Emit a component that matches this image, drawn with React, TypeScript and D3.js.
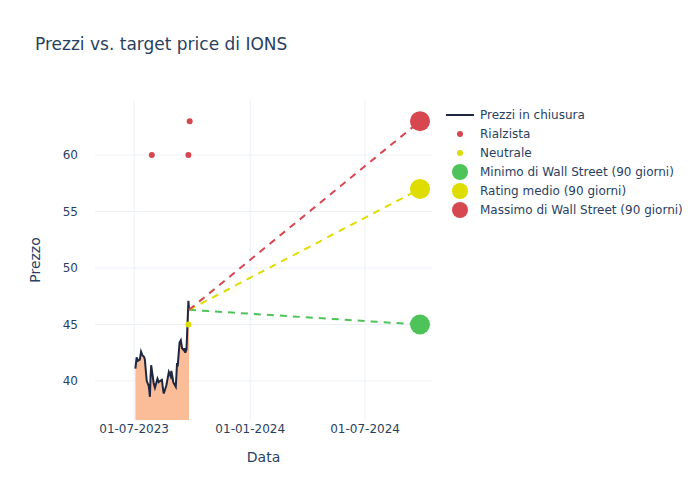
import React from "react";
import * as d3 from "d3";

const priceDates = [
  "2023-07-03","2023-07-05","2023-07-07","2023-07-10","2023-07-12","2023-07-14","2023-07-17","2023-07-18",
  "2023-07-20","2023-07-21","2023-07-24","2023-07-25","2023-07-26","2023-07-27","2023-07-28","2023-07-31",
  "2023-08-01","2023-08-03","2023-08-04","2023-08-07","2023-08-09","2023-08-11","2023-08-14","2023-08-16",
  "2023-08-17","2023-08-21","2023-08-23","2023-08-25","2023-08-28","2023-08-29","2023-08-31","2023-09-01",
  "2023-09-05","2023-09-06","2023-09-07","2023-09-08","2023-09-11","2023-09-13","2023-09-15","2023-09-18",
  "2023-09-19","2023-09-20","2023-09-22","2023-09-25","2023-09-26"
];
const priceValues = [
  41.1, 42.1, 41.8, 41.9, 42.6, 42.3, 42.1, 41.9,
  40.6, 40.0, 39.6, 39.2, 38.6, 40.3, 41.4, 40.2,
  39.8, 39.4, 39.6, 40.2, 39.9, 40.0, 40.1, 39.2,
  38.9, 39.6, 40.2, 40.8, 40.4, 40.9, 40.3, 39.9,
  39.5, 40.5, 41.6, 41.3, 43.4, 43.6, 42.9, 42.7,
  42.9, 42.5, 42.8, 47.1, 46.3
];

const bullishDates = ["2023-07-29", "2023-09-25", "2023-09-27"];
const bullishValues = [60, 60, 63];
const neutralDates = ["2023-09-25"];
const neutralValues = [45];

const targetDate = "2024-09-26";
const targetLabels = ["Minimo di Wall Street (90 giorni)", "Rating medio (90 giorni)", "Massimo di Wall Street (90 giorni)"];
const targetValues = [45, 57, 63];
const targetColors = ["#4ec35a", "#dfdc00", "#d6474f"];

const yTicks = [40, 45, 50, 55, 60];
const xTickDates = ["2023-07-01", "2024-01-01", "2024-07-01"];
const xTickLabels = ["01-07-2023", "01-01-2024", "01-07-2024"];

const FONT = "'DejaVu Sans', sans-serif";
const TXT = "#2a3f5f";
const RED = "#d6474f";
const YEL = "#dfdc00";

const pd = (s: string) => new Date(s + "T00:00:00Z");

export default function App() {
  const W = 700, H = 500;
  const left = 95, right = 432, top = 100, bottom = 420;
  const x = d3.scaleUtc().domain([pd("2023-04-30"), pd("2024-10-15")]).range([left, right]);
  const y = d3.scaleLinear().domain([36.55, 64.87]).range([bottom, top]);

  const pts = priceDates.map((d, i) => ({ d: pd(d), v: priceValues[i] }));
  const line = d3.line<{ d: Date; v: number }>().x(p => x(p.d)).y(p => y(p.v));
  const area = d3.area<{ d: Date; v: number }>().x(p => x(p.d)).y0(bottom).y1(p => y(p.v));
  const last = pts[pts.length - 1];

  const legendItems = [
    { label: "Prezzi in chiusura", kind: "line", color: "#1f2640" },
    { label: "Rialzista", kind: "small", color: RED },
    { label: "Neutrale", kind: "small", color: YEL },
    { label: targetLabels[0], kind: "big", color: targetColors[0] },
    { label: targetLabels[1], kind: "big", color: targetColors[1] },
    { label: targetLabels[2], kind: "big", color: targetColors[2] },
  ];

  return (
    <svg width={W} height={H} style={{ position: "absolute", left: 0, top: 0, fontFamily: FONT }}>
      <rect width={W} height={H} fill="#fff" />
      <defs>
        <clipPath id="plot">
          <rect x={left} y={top} width={right - left} height={bottom - top} />
        </clipPath>
      </defs>
      {yTicks.map(t => (
        <g key={t}>
          <line x1={left} x2={right} y1={y(t)} y2={y(t)} stroke="#ebf0f8" strokeWidth={1} />
          <text x={left - 17} y={y(t)} dy="0.35em" textAnchor="end" fontSize={12} fill={TXT}>{t}</text>
        </g>
      ))}
      {xTickDates.map((t, i) => (
        <g key={t}>
          <line x1={x(pd(t))} x2={x(pd(t))} y1={top} y2={bottom} stroke="#ebf0f8" strokeWidth={1} />
          <text x={x(pd(t))} y={bottom + 13} textAnchor="middle" fontSize={12} fill={TXT}>{xTickLabels[i]}</text>
        </g>
      ))}
      <g clipPath="url(#plot)">
        <path d={area(pts) || ""} fill="#fbbd98" />
        <path d={line(pts) || ""} fill="none" stroke="#1f2640" strokeWidth={2} />
        {targetValues.map((v, i) => (
          <line key={i} x1={x(last.d)} y1={y(last.v)} x2={x(pd(targetDate))} y2={y(v)}
            stroke={targetColors[i]} strokeWidth={2} strokeDasharray="7,6" />
        ))}
        {bullishDates.map((d, i) => (
          <circle key={d + i} cx={x(pd(d))} cy={y(bullishValues[i])} r={3} fill={RED} />
        ))}
        {neutralDates.map((d, i) => (
          <circle key={d + i} cx={x(pd(d))} cy={y(neutralValues[i])} r={3} fill={YEL} />
        ))}
        {targetValues.map((v, i) => (
          <circle key={"t" + i} cx={x(pd(targetDate))} cy={y(v)} r={10} fill={targetColors[i]} />
        ))}
      </g>
      <text x={35} y={50} fontSize={17} fill={TXT}>Prezzi vs. target price di IONS</text>
      <text x={(left + right) / 2} y={462} textAnchor="middle" fontSize={14} fill={TXT}>Data</text>
      <text transform={`translate(40,${(top + bottom) / 2}) rotate(-90)`} textAnchor="middle" fontSize={14} fill={TXT}>Prezzo</text>
      {legendItems.map((it, i) => {
        const ly = 115 + i * 19;
        return (
          <g key={it.label}>
            {it.kind === "line" && <line x1={446} x2={474} y1={ly} y2={ly} stroke={it.color} strokeWidth={2} />}
            {it.kind === "small" && <circle cx={460} cy={ly} r={3} fill={it.color} />}
            {it.kind === "big" && <circle cx={460} cy={ly} r={8} fill={it.color} />}
            <text x={480} y={ly} dy="0.35em" fontSize={12} fill={TXT}>{it.label}</text>
          </g>
        );
      })}
    </svg>
  );
}
